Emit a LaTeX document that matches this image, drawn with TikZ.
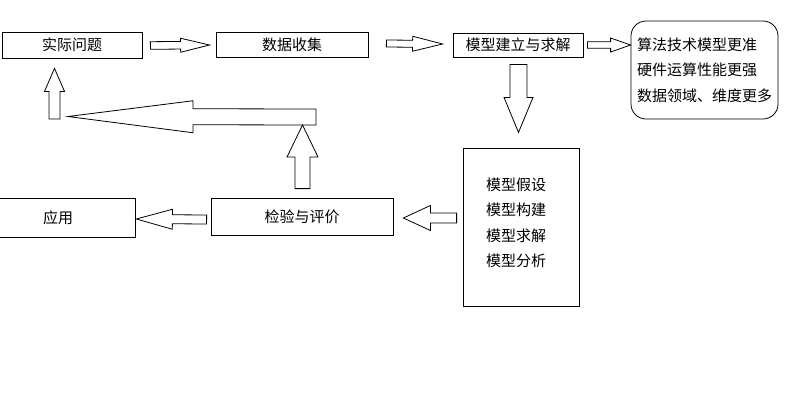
\documentclass[tikz,border=0pt]{standalone}
\usepackage{fontspec}
\newfontfamily\cjk{Noto Sans CJK SC}
\usetikzlibrary{calc}

\tikzset{%
  box/.style={draw,line width=0.8pt,inner sep=0pt,%
    font=\cjk\fontsize{15}{25}\selectfont},%
  fat/.style={draw,line width=0.8pt,line join=miter}%
}
% hollow block arrow: from, to, shaft half width, head half width, head length
\newcommand{\fatarrow}[5]{%
  \coordinate (h) at ($(#2)!#5!(#1)$);%
  \draw[fat] ($(#1)!#3!90:(#2)$) -- ($(h)!#3!90:(#2)$) -- ($(h)!#4!90:(#2)$)%
    -- (#2) -- ($(h)!#4!-90:(#2)$) -- ($(h)!#3!-90:(#2)$)%
    -- ($(#1)!#3!-90:(#2)$) -- cycle;%
}

\begin{document}
\begin{tikzpicture}[x=1pt,y=-1pt]
  \useasboundingbox (0,0) rectangle (800,400);%
  \clip (0,0) rectangle (800,400);%
  %
  \node[box,minimum width=140pt,minimum height=26pt] (wenti) at (72,45) {实际问题};%
  \node[box,minimum width=152pt,minimum height=25pt] (shouji) at (292,44.5) {数据收集};%
  \node[box,minimum width=130pt,minimum height=24pt] (jianli) at (518,45) {模型建立与求解};%
  \node[box,rounded corners=15pt,minimum height=98pt,text width=135pt,inner xsep=6pt,%
    align=left,font=\cjk\fontsize{15}{25.5}\selectfont] (qianjing) at (704.5,70)%
    {算法技术模型更准\\硬件运算性能更强\\数据领域、维度更多};%
  \node[box,minimum width=116pt,minimum height=158pt,%
    label={[align=left,text width=60pt,inner sep=0pt,xshift=-5pt,yshift=4pt,%
      font=\cjk\fontsize{15}{25.5}\selectfont]center:模型假设\\模型构建\\模型求解\\模型分析}]%
    (moxing) at (521,227) {};%
  \node[box,minimum width=182pt,minimum height=37pt] (jianyan) at (302,216.5) {检验与评价};%
  \node[box,minimum width=154pt,minimum height=39pt] (yingyong) at (58,217.5) {应用};%
  %
  \coordinate (a1) at ($(wenti.east)+(8,0.5)$);%
  \coordinate (b1) at ($(shouji.west)+(-6,0.5)$);%
  \coordinate (a2) at ($(shouji.east)+(18,-1)$);%
  \coordinate (b2) at ($(jianli.west)+(-10,-1)$);%
  \coordinate (a3) at ($(jianli.east)+(4,0)$);%
  \coordinate (b3) at ($(qianjing.west)+(0,-25)$);%
  \coordinate (a4) at ($(jianli.south)+(0.5,7)$);%
  \coordinate (b4) at ($(jianli.south)+(0.5,75)$);%
  \coordinate (a5) at ($(moxing.west)+(-6,-9)$);%
  \coordinate (b5) at ($(jianyan.east)+(10,1.5)$);%
  \coordinate (a6) at ($(jianyan.west)+(-4,3)$);%
  \coordinate (b6) at ($(yingyong.east)+(1,1.5)$);%
  \coordinate (a7) at ($(jianyan.north)+(0.5,-9)$);%
  \coordinate (turn) at (316,117);%
  \coordinate (b7) at (302.5,125);%
  \coordinate (back) at (68,116.5);%
  \coordinate (a8) at (54.5,119);%
  \coordinate (b8) at ($(wenti.south)+(-17.5,10)$);%
  %
  \fatarrow{a1}{b1}{3.8pt}{7pt}{29pt}%
  \fatarrow{a2}{b2}{3.5pt}{7.5pt}{30pt}%
  \fatarrow{a3}{b3}{3.3pt}{7pt}{20pt}%
  \fatarrow{a4}{b4}{8.5pt}{14.5pt}{35pt}%
  \fatarrow{a5}{b5}{5pt}{12.5pt}{27pt}%
  \fatarrow{a6}{b6}{4.5pt}{10pt}{36pt}%
  \fatarrow{a7}{b7}{7.5pt}{15.5pt}{32pt}%
  \fatarrow{turn}{back}{8pt}{16pt}{125pt}%
  \fatarrow{a8}{b8}{5.5pt}{10pt}{23pt}%
\end{tikzpicture}
\end{document}
